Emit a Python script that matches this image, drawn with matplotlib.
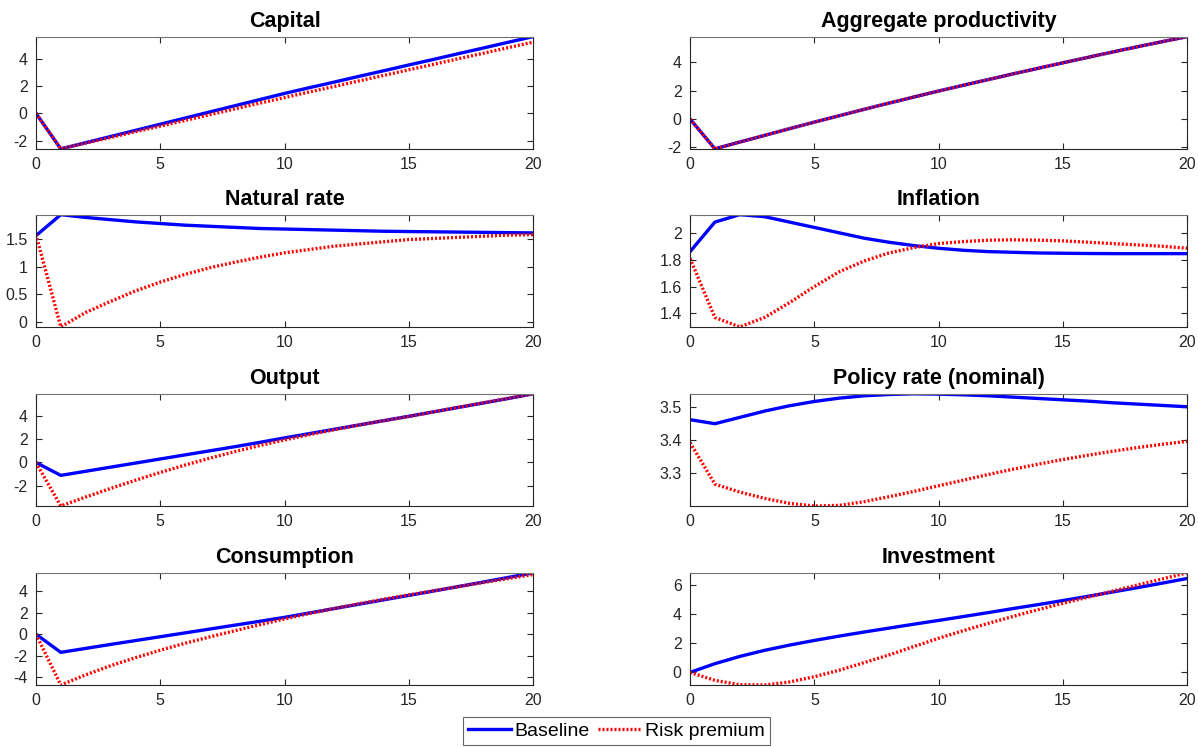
import matplotlib
matplotlib.use('Agg')
import matplotlib.pyplot as plt

plt.rcParams['font.family'] = ['Liberation Sans', 'DejaVu Sans']

t = list(range(21))

capital_base = [0, -2.6, -2.15, -1.70, -1.25, -0.80, -0.35, 0.10, 0.55, 1.00, 1.45,
                1.87, 2.28, 2.70, 3.11, 3.53, 3.94, 4.36, 4.77, 5.19, 5.6]
capital_risk = [0, -2.6, -2.18, -1.77, -1.35, -0.94, -0.52, -0.10, 0.32, 0.74, 1.15,
                1.56, 1.96, 2.37, 2.77, 3.18, 3.58, 3.99, 4.39, 4.80, 5.2]

prod_base = [0, -2.1, -1.62, -1.15, -0.68, -0.22, 0.23, 0.68, 1.12, 1.55, 1.97,
             2.38, 2.78, 3.18, 3.57, 3.96, 4.34, 4.72, 5.09, 5.45, 5.8]
prod_risk = [0, -2.1, -1.62, -1.15, -0.68, -0.22, 0.23, 0.68, 1.12, 1.55, 1.97,
             2.38, 2.78, 3.18, 3.57, 3.96, 4.34, 4.72, 5.09, 5.45, 5.8]

natrate_base = [1.56, 1.94, 1.89, 1.85, 1.81, 1.78, 1.75, 1.73, 1.71, 1.69, 1.68,
                1.67, 1.66, 1.65, 1.64, 1.635, 1.63, 1.625, 1.62, 1.615, 1.61]
natrate_risk = [1.58, -0.09, 0.17, 0.37, 0.56, 0.72, 0.86, 0.98, 1.08, 1.17, 1.25,
                1.31, 1.37, 1.41, 1.45, 1.49, 1.51, 1.53, 1.55, 1.57, 1.58]

infl_base = [1.86, 2.08, 2.135, 2.12, 2.08, 2.04, 2.0, 1.96, 1.93, 1.905, 1.885,
             1.87, 1.86, 1.855, 1.85, 1.848, 1.846, 1.845, 1.845, 1.845, 1.845]
infl_risk = [1.81, 1.37, 1.30, 1.37, 1.48, 1.60, 1.71, 1.79, 1.85, 1.89, 1.92,
             1.935, 1.945, 1.948, 1.945, 1.94, 1.93, 1.92, 1.91, 1.90, 1.885]

output_base = [0, -1.1, -0.75, -0.4, -0.05, 0.3, 0.65, 1.0, 1.35, 1.72, 2.1,
               2.47, 2.84, 3.21, 3.58, 3.95, 4.33, 4.71, 5.09, 5.47, 5.87]
output_risk = [0, -3.72, -2.95, -2.22, -1.52, -0.85, -0.22, 0.37, 0.93, 1.45, 1.93,
               2.38, 2.8, 3.2, 3.58, 3.93, 4.33, 4.72, 5.1, 5.49, 5.87]

policy_base = [3.461, 3.449, 3.468, 3.487, 3.503, 3.516, 3.526, 3.533, 3.537, 3.539, 3.538,
               3.536, 3.533, 3.529, 3.525, 3.521, 3.517, 3.512, 3.508, 3.504, 3.50]
policy_risk = [3.392, 3.267, 3.243, 3.224, 3.209, 3.201, 3.203, 3.214, 3.229, 3.245, 3.262,
               3.279, 3.296, 3.312, 3.327, 3.341, 3.354, 3.366, 3.377, 3.387, 3.396]

cons_base = [0, -1.7, -1.33, -0.96, -0.6, -0.24, 0.12, 0.48, 0.84, 1.2, 1.57,
             1.98, 2.39, 2.8, 3.21, 3.62, 4.03, 4.45, 4.87, 5.3, 5.73]
cons_risk = [0, -4.75, -3.8, -2.95, -2.2, -1.5, -0.85, -0.25, 0.32, 0.88, 1.42,
             1.93, 2.4, 2.85, 3.27, 3.67, 4.06, 4.44, 4.82, 5.2, 5.57]

inv_base = [0, 0.6, 1.1, 1.52, 1.88, 2.2, 2.5, 2.78, 3.05, 3.32, 3.58,
            3.85, 4.12, 4.4, 4.67, 4.95, 5.24, 5.54, 5.84, 6.15, 6.47]
inv_risk = [0, -0.55, -0.85, -0.87, -0.66, -0.3, 0.15, 0.67, 1.2, 1.78, 2.35,
            2.88, 3.38, 3.86, 4.32, 4.76, 5.18, 5.6, 6.02, 6.44, 6.86]

titles = ['Capital', 'Aggregate productivity', 'Natural rate', 'Inflation',
          'Output', 'Policy rate (nominal)', 'Consumption', 'Investment']
series = [(capital_base, capital_risk), (prod_base, prod_risk),
          (natrate_base, natrate_risk), (infl_base, infl_risk),
          (output_base, output_risk), (policy_base, policy_risk),
          (cons_base, cons_risk), (inv_base, inv_risk)]
yticks = [[-2, 0, 2, 4], [-2, 0, 2, 4], [0, 0.5, 1, 1.5], [1.4, 1.6, 1.8, 2],
          [-2, 0, 2, 4], [3.3, 3.4, 3.5], [-4, -2, 0, 2, 4], [0, 2, 4, 6]]

fig = plt.figure(figsize=(11.98, 7.48), dpi=100)

lefts = [0.030, 0.576]
bottoms = [0.801, 0.563, 0.3235, 0.0842]
w, h = 0.415, 0.150
axcol = '0.15'

for i, (title, (base, risk)) in enumerate(zip(titles, series)):
    ax = fig.add_axes([lefts[i % 2], bottoms[i // 2], w, h])
    lb, = ax.plot(t, base, color='#0000ff', lw=2.4, label='Baseline')
    lr, = ax.plot(t, risk, color='#ff0000', lw=2.4, ls=(0, (0.6, 0.6)), label='Risk premium')
    lo = min(min(base), min(risk))
    hi = max(max(base), max(risk))
    ax.set_xlim(0, 20)
    ax.set_ylim(lo, hi)
    ax.set_xticks([0, 5, 10, 15, 20])
    ax.set_yticks(yticks[i])
    ax.set_yticklabels([('%g' % v) for v in yticks[i]])
    ax.set_title(title, fontsize=15.5, fontweight='bold', pad=7)
    ax.tick_params(direction='in', top=True, right=True, length=4, width=0.8,
                   labelsize=11.5, colors=axcol, pad=6)
    for sp in ax.spines.values():
        sp.set_color(axcol)
        sp.set_linewidth(0.8)
    ax.spines['top'].set_color('0.45')

leg = fig.legend([lb, lr], ['Baseline', 'Risk premium'], loc='upper center',
                 bbox_to_anchor=(0.5145, 0.041), ncol=2, fontsize=14, frameon=True,
                 fancybox=False, edgecolor='0.25', handlelength=2.2,
                 handletextpad=0.2, columnspacing=0.45, borderpad=0.25,
                 borderaxespad=0)
leg.get_frame().set_linewidth(0.8)

plt.savefig('out.png', dpi=100)
